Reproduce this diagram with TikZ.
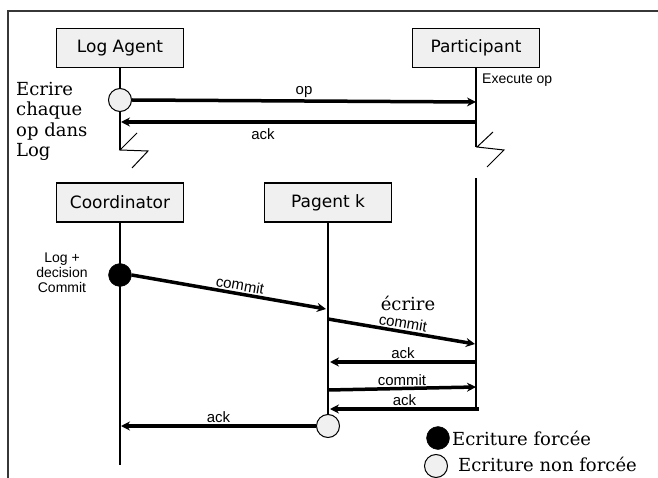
\documentclass[tikz,border=0pt]{standalone}
\usepackage{fontspec}
\setmainfont{DejaVu Serif}
\newfontfamily\actorfont{DejaVu Sans}
\newfontfamily\msgfont{Liberation Sans}
\usetikzlibrary{arrows.meta}
\definecolor{boxgray}{RGB}{240,240,240}
\definecolor{framegray}{RGB}{55,55,55}

\begin{document}
\begin{tikzpicture}[x=1pt,y=-1pt,
  actor/.style={draw=black, line width=1.2pt, fill=boxgray, minimum width=127pt,
    minimum height=39pt, inner sep=0pt, font=\actorfont\fontsize{17}{20}\selectfont},
  lifeline/.style={line width=1.3pt},
  msg/.style={line width=3.5pt, -{Stealth[length=9pt,width=9pt]}},
  msglbl/.style={font=\msgfont\fontsize{15}{16}\selectfont, inner sep=1.5pt},
  forced/.style={circle, fill=black, draw=black, minimum size=23pt, inner sep=0pt},
  unforced/.style={circle, fill=boxgray, draw=black, line width=1pt, minimum size=23pt, inner sep=0pt},
  note/.style={font=\fontsize{18}{20.5}\selectfont, inner sep=0pt},
  smallnote/.style={font=\msgfont\fontsize{14}{15}\selectfont, inner sep=0pt},
  breakmark/.style={line width=1pt}
]
\useasboundingbox (0,0) rectangle (658,478);
\fill[white] (0,0) rectangle (658,478);

% outer frame (top and left edges)
\draw[framegray, line width=1.2pt] (8,478) -- (8,11) -- (658,11);

% ---------- upper part: log agent and participant ----------
\node[actor] (la) at (120,48) {Log Agent};
\node[actor] (pa) at (476,48) {Participant};

\coordinate (la-end) at (120,150);
\coordinate (pa-end) at (476,147);
\draw[lifeline] (la.south) -- (la-end);
\draw[lifeline] (pa.south) -- (pa-end);

% lifeline breaks
\draw[breakmark] (137,133) -- (120,150) -- (148,151) -- (132,168);
\draw[breakmark] (493,132) -- (477,147) -- (504,150) -- (487,167);

\node[unforced] (lac) at (120,100) {};

\coordinate (pa-op) at (476,102);
\coordinate (pa-ack) at (476,122);
\coordinate (la-ack) at (121,122);
\draw[msg] (lac.east) -- node[msglbl, above] {op} (pa-op);
\draw[msg] (pa-ack) -- node[msglbl, below=3pt, pos=0.6] {ack} (la-ack);

\node[note, anchor=north west, align=left] (logtxt) at (16,82)
  {Ecrire\\chaque\\op dans\\Log};
\node[smallnote, anchor=west] (exec) at (482,80) {Execute op};

% ---------- lower part: coordinator, pagent, participant ----------
\node[actor] (co) at (120,202.5) {Coordinator};
\node[actor] (pg) at (328,202.5) {Pagent k};

\coordinate (co-end) at (120,465);
\coordinate (pa2-top) at (476,178);
\coordinate (pa2-end) at (476,410);
\draw[lifeline] (co.south) -- (co-end);
\draw[lifeline] (pa2-top) -- (pa2-end);

\node[unforced] (pgc) at (328,426) {};
\draw[lifeline] (pg.south) -- (pgc.north);
\node[forced] (coc) at (120,275) {};

\node[smallnote, align=center] (logdec) at (62,273) {Log +\\decision\\Commit};

% messages
\coordinate (pg-c1) at (326,309);
\coordinate (pg-w) at (328,319);
\coordinate (pa-c) at (475,344);
\coordinate (pa-a1) at (476,362);
\coordinate (pg-a1) at (330,362);
\coordinate (pg-c2) at (328,390);
\coordinate (pa-c2) at (476,387);
\coordinate (pa-a2) at (479,409);
\coordinate (pg-a2) at (330,409);
\coordinate (co-a) at (121,426);

\draw[msg] (coc.east) -- node[msglbl, above, sloped, pos=0.55] {commit} (pg-c1);
\draw[msg] (pg-w) -- node[msglbl, above, sloped, pos=0.5] {commit} (pa-c);
\node[note] (ecr) at (408,303) {écrire};
\draw[msg] (pa-a1) -- node[msglbl, above] {ack} (pg-a1);
\draw[msg] (pg-c2) -- node[msglbl, above] {commit} (pa-c2);
\draw[msg] (pa-a2) -- node[msglbl, above] {ack} (pg-a2);
\draw[msg] (pgc.west) -- node[msglbl, above] {ack} (co-a);

% ---------- legend ----------
\node[forced] (lgf) at (438,438) {};
\node[note, anchor=west] (lgftxt) at (452,438) {Ecriture forcée};
\node[unforced] (lgu) at (436,466) {};
\node[note, anchor=west] (lgutxt) at (458,464) {Ecriture non forcée};
\end{tikzpicture}
\end{document}
